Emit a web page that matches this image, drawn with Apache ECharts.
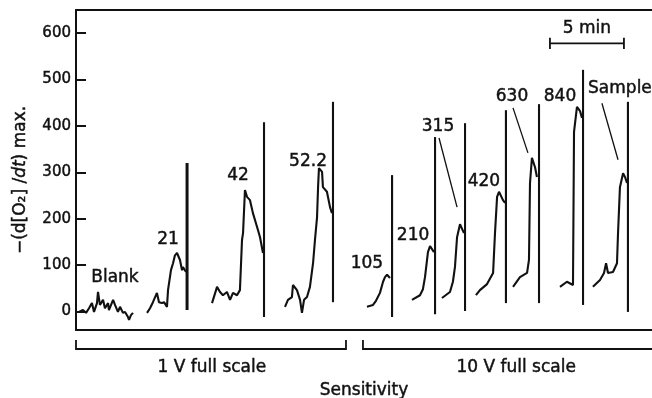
<!DOCTYPE html>
<html>
<head>
<meta charset="utf-8">
<script src="https://cdn.jsdelivr.net/npm/echarts@6/dist/echarts.min.js"></script>
<style>
  html, body { margin: 0; padding: 0; background: #fff; }
  #chart { width: 652px; height: 398px; }
</style>
</head>
<body>
<div id="chart"></div>
<script>
// Oxygen-electrode recorder traces: time (min) against −(d[O2]/dt) max.
// Each trace is one injection; the tall vertical stroke is the pen reset.

const sensLabels = ['Blank', '21', '42', '52.2', '105', '210', '315', '420', '630', '840', 'Sample'];

const traceBlank = [[0.20,-1],[0.47,3],[0.68,-3],[0.88,7],[1.08,18],[1.22,-1],[1.42,18],[1.49,42],[1.62,14],[1.83,25],[1.96,7],[2.17,18],[2.23,3],[2.51,25],[2.64,14],[2.84,-1],[2.98,10],[3.18,-3],[3.32,-1],[3.52,-12],[3.59,-18],[3.72,-8],[3.86,-3]];
const trace21 = [[4.81,-3],[5.01,7],[5.21,20],[5.48,40],[5.62,20],[5.82,18],[5.96,20],[6.16,10],[6.23,46],[6.43,89],[6.57,104],[6.70,121],[6.84,126],[7.04,111],[7.18,89],[7.24,96],[7.45,85]];
const trace42 = [[9.21,18],[9.55,53],[9.75,42],[9.95,35],[10.22,42],[10.43,25],[10.63,40],[10.90,35],[11.10,46],[11.24,154],[11.31,169],[11.44,262],[11.58,247],[11.78,240],[11.98,212],[12.26,182],[12.46,160],[12.66,126]];
const trace52 = [[14.15,10],[14.35,25],[14.62,31],[14.69,57],[14.96,46],[15.17,25],[15.30,-3],[15.44,25],[15.64,31],[15.84,53],[16.05,104],[16.18,154],[16.32,203],[16.39,268],[16.45,309],[16.66,301],[16.72,268],[16.99,258],[17.20,225],[17.33,212]];
const trace105 = [[19.70,10],[20.11,14],[20.31,23],[20.58,40],[20.79,64],[20.92,74],[21.06,79],[21.26,72]];
const trace210 = [[22.75,25],[23.29,35],[23.49,48],[23.63,74],[23.83,128],[23.97,141],[24.24,128]];
const trace315 = [[24.78,29],[25.32,42],[25.52,64],[25.66,96],[25.80,160],[26.00,188],[26.27,169]];
const trace420 = [[27.08,35],[27.35,46],[27.83,59],[28.24,83],[28.37,169],[28.51,247],[28.64,258],[28.91,240],[29.05,234]];
const trace630 = [[29.59,53],[30.06,74],[30.54,83],[30.67,111],[30.74,277],[30.87,331],[30.94,333],[31.08,311],[31.21,290]];
const trace840 = [[32.77,53],[33.24,64],[33.65,57],[33.72,387],[33.92,441],[34.13,432],[34.26,417]];
const traceSample = [[35.00,53],[35.48,68],[35.75,83],[35.89,104],[36.02,83],[36.36,85],[36.63,104],[36.70,169],[36.83,268],[37.04,298],[37.17,290],[37.31,277]];

const traces = [traceBlank, trace21, trace42, trace52, trace105, trace210, trace315, trace420, trace630, trace840, traceSample];

// Pen resets after each injection: [time, low, high]
const resets = [[7.52,3,320],[12.73,-12,408],[17.40,20,452],[21.40,-12,294],[24.31,-6,376],[26.34,1,406],[29.11,18,434],[31.35,18,447],[34.33,14,521],[37.37,-1,452]];

// Where each sensitivity label sits (time, value)
const labelAt = [[2.64,72],[6.23,154],[10.97,294],[15.71,324],[19.70,104],[22.82,164],[24.51,399],[27.62,281],[29.52,464],[32.77,464],[36.83,481]];

// Leader lines from label to peak for 315, 630 and Sample
const leaders = [[[24.58,374],[25.80,225]], [[29.59,439],[30.60,342]], [[35.61,449],[36.70,327]]];

// Time scale bar (min)
const barStart = 32.09, barEnd = 37.10, barLevel = 578, barCap = 12;

// Sensitivity ranges along the time axis
const ranges = [{ text: '1 V full scale', from: 0, to: 18.28, mid: 9.2 },
                { text: '10 V full scale', from: 19.43, to: 39, mid: 29.8 }];

const yTicks = [0, 100, 200, 300, 400, 500, 600];

const FONT = 'DejaVu Sans';
const INK = '#111111';
// slight stroke on glyphs so the lettering carries the same weight as the pen lines
const heavy = { textBorderColor: INK, textBorderWidth: 0.45 };

const series = [];
traces.forEach((d, i) => {
  series.push({
    name: sensLabels[i], type: 'line', data: d, symbol: 'none', smooth: false,
    lineStyle: { color: INK, width: 2.1 }, silent: true, z: 3
  });
});
resets.forEach((r, i) => {
  series.push({
    type: 'line', data: [[r[0], r[1]], [r[0], r[2]]], symbol: 'none',
    lineStyle: { color: INK, width: i === 0 ? 3 : 2.1 }, silent: true, z: 3
  });
});
leaders.forEach(l => {
  series.push({
    type: 'line', data: l, symbol: 'none',
    lineStyle: { color: INK, width: 1.3 }, silent: true, z: 3
  });
});
series.push({
  type: 'line', symbol: 'none', silent: true, z: 3,
  lineStyle: { color: INK, width: 1.8 },
  data: [[barStart, barLevel + barCap], [barStart, barLevel - barCap], [barStart, barLevel],
         [barEnd, barLevel], [barEnd, barLevel + barCap], [barEnd, barLevel - barCap]]
});
series.push({
  type: 'scatter', symbolSize: 0, silent: true, z: 4,
  itemStyle: { opacity: 1 },
  data: sensLabels.map((s, i) => ({ name: s, value: labelAt[i] }))
    .concat([{ name: '5 min', value: [(barStart + barEnd) / 2, 610] }]),
  label: Object.assign({
    show: true, position: 'inside', formatter: '{b}',
    fontFamily: FONT, fontSize: 17, color: INK
  }, heavy)
});

const chart = echarts.init(document.getElementById('chart'), null, { renderer: 'canvas' });

chart.setOption({
  animation: false,
  backgroundColor: '#ffffff',
  grid: { left: 76, right: 0, top: 10, bottom: 68, outerBoundsMode: 'none', containLabel: false },
  xAxis: [{
    type: 'value', min: 0, max: 39, position: 'bottom',
    axisLine: { show: true, onZero: false, lineStyle: { color: INK, width: 2 } },
    axisTick: { show: false }, axisLabel: { show: false }, splitLine: { show: false },
    name: 'Sensitivity', nameLocation: 'middle', nameGap: 52,
    nameTextStyle: Object.assign({ fontFamily: FONT, fontSize: 17, color: INK }, heavy)
  }, {
    type: 'value', min: 0, max: 39, position: 'top',
    axisLine: { show: true, onZero: false, lineStyle: { color: INK, width: 2 } },
    axisTick: { show: false }, axisLabel: { show: false }, splitLine: { show: false }
  }],
  yAxis: {
    type: 'value', min: -40, max: 650,
    axisLine: { show: true, onZero: false, lineStyle: { color: INK, width: 2 } },
    axisTick: { show: true, inside: true, length: 10, customValues: yTicks, lineStyle: { color: INK, width: 2 } },
    axisLabel: Object.assign({ customValues: yTicks, margin: 5, fontFamily: FONT, fontSize: 15, color: INK }, heavy),
    splitLine: { show: false },
    name: '−(d[O₂] /{i|dt}) max.', nameLocation: 'middle', nameGap: 47,
    nameTextStyle: Object.assign({
      fontFamily: FONT, fontSize: 17, color: INK, padding: [0, 20, 0, 0],
      rich: { i: Object.assign({ fontFamily: FONT, fontSize: 17, color: INK, fontStyle: 'italic' }, heavy) }
    }, heavy)
  },
  series: series
});

// Sensitivity brackets under the time axis
const px = t => chart.convertToPixel({ xAxisIndex: 0 }, t);
const graphic = [];
ranges.forEach((r, i) => {
  const x0 = px(r.from), x1 = px(r.to);
  const pts = i === 0
    ? [[x0, 340], [x0, 349], [x1, 349], [x1, 340]]
    : [[x0, 340], [x0, 349], [x1 + 2, 349]];
  graphic.push({ type: 'polyline', shape: { points: pts }, style: { stroke: INK, lineWidth: 1.8, fill: null } });
  graphic.push({
    type: 'text', x: px(r.mid), y: 368,
    style: Object.assign({ text: r.text, fontFamily: FONT, fontSize: 17, fill: INK, align: 'center', verticalAlign: 'middle' },
      { stroke: INK, lineWidth: 0.45 })
  });
});
chart.setOption({ graphic: graphic });
</script>
</body>
</html>
